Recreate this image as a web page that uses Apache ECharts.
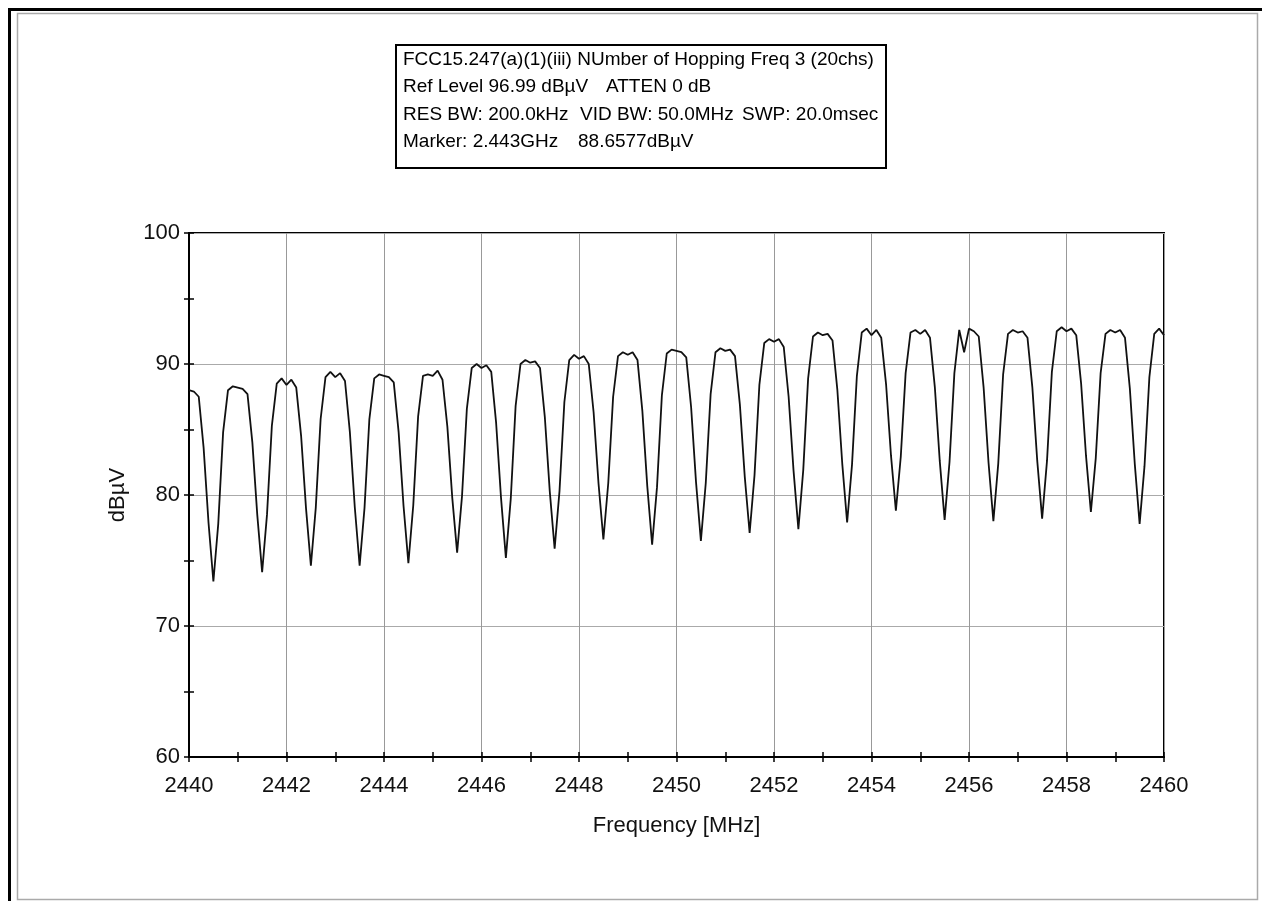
<!DOCTYPE html>
<html>
<head>
<meta charset="utf-8">
<title>Number of Hopping Freq</title>
<script src="https://cdn.jsdelivr.net/npm/echarts@6/dist/echarts.min.js"></script>
<style>
  html, body { margin: 0; padding: 0; background: #fff; }
  #main { width: 1262px; height: 901px; }
</style>
</head>
<body>
<div id="main"></div>
<script>
// sweep: 2440.0 .. 2460.0 MHz, one reading every 0.1 MHz
var sweepStart = 2440;
var sweepStep = 0.1;

// trace levels in dBuV, one row per MHz (x.0 .. x.9)
var traceLevels = [
  88.0, 87.9, 87.5, 83.6, 77.9, 73.4, 77.8, 84.8, 88.0, 88.3, // 2440
  88.2, 88.1, 87.7, 84.0, 78.5, 74.1, 78.5, 85.3, 88.5, 88.9, // 2441
  88.4, 88.8, 88.2, 84.5, 79.0, 74.6, 79.0, 85.8, 89.0, 89.4, // 2442
  89.0, 89.3, 88.7, 84.8, 79.1, 74.6, 79.0, 85.8, 88.9, 89.2, // 2443
  89.1, 89.0, 88.6, 84.8, 79.2, 74.8, 79.2, 86.0, 89.1, 89.2, // 2444
  89.1, 89.5, 88.8, 85.2, 79.8, 75.6, 79.9, 86.6, 89.7, 90.0, // 2445
  89.7, 89.9, 89.4, 85.5, 79.8, 75.2, 79.7, 86.8, 90.0, 90.3, // 2446
  90.1, 90.2, 89.7, 85.9, 80.3, 75.9, 80.3, 87.1, 90.3, 90.7, // 2447
  90.4, 90.6, 90.0, 86.3, 80.9, 76.6, 80.9, 87.5, 90.6, 90.9, // 2448
  90.7, 90.9, 90.3, 86.4, 80.7, 76.2, 80.6, 87.6, 90.8, 91.1, // 2449
  91.0, 90.9, 90.5, 86.7, 81.0, 76.5, 80.9, 87.7, 90.9, 91.2, // 2450
  91.0, 91.1, 90.6, 86.9, 81.4, 77.1, 81.5, 88.4, 91.6, 91.9, // 2451
  91.7, 91.9, 91.3, 87.5, 81.9, 77.4, 81.9, 88.9, 92.1, 92.4, // 2452
  92.2, 92.3, 91.8, 88.0, 82.4, 77.9, 82.3, 89.1, 92.4, 92.7, // 2453
  92.2, 92.6, 92.0, 88.4, 83.0, 78.8, 82.9, 89.3, 92.4, 92.6, // 2454
  92.3, 92.6, 92.0, 88.2, 82.6, 78.1, 82.5, 89.3, 92.6, 90.9, // 2455
  92.7, 92.5, 92.1, 88.2, 82.5, 78.0, 82.4, 89.2, 92.3, 92.6, // 2456
  92.4, 92.5, 92.0, 88.2, 82.6, 78.2, 82.6, 89.4, 92.5, 92.8, // 2457
  92.5, 92.7, 92.2, 88.5, 83.0, 78.7, 82.8, 89.3, 92.3, 92.6, // 2458
  92.4, 92.6, 92.0, 88.1, 82.4, 77.8, 82.2, 89.0, 92.3, 92.7, // 2459
  92.2                                                        // 2460
];

var freqRange = [2440, 2460];
var levelRange = [60, 100];

var headerLines = [
  ['FCC15.247(a)(1)(iii) NUmber of Hopping Freq 3 (20chs)'],
  ['Ref Level 96.99 dB\u00b5V', 'ATTEN 0 dB'],
  ['RES BW: 200.0kHz', 'VID BW: 50.0MHz', 'SWP: 20.0msec'],
  ['Marker: 2.443GHz', '88.6577dB\u00b5V']
];

var FONT = '"Liberation Sans", Arial, sans-serif';

var traceData = traceLevels.map(function (v, i) {
  return [+(sweepStart + i * sweepStep).toFixed(1), v];
});

// header box text, placed column by column
var colX = [[403], [403, 606], [403, 580, 742], [403, 578]];
var rowY = [60, 87.5, 115, 142.5];
var headerTexts = [];
headerLines.forEach(function (row, r) {
  row.forEach(function (t, c) {
    headerTexts.push({
      type: 'text',
      left: colX[r][c], top: rowY[r] - 10,
      style: { text: t, fill: '#000', font: '19px ' + FONT }
    });
  });
});

var myChart = echarts.init(document.getElementById('main'));

var option = {
  backgroundColor: '#fff',
  animation: false,
  grid: {
    left: 189, right: 98, top: 233, bottom: 144,
    show: true, borderColor: '#000', borderWidth: 2, backgroundColor: '#fff'
  },
  graphic: [
    { type: 'polyline', shape: { points: [[9.5, 901], [9.5, 9.5], [1262, 9.5]] },
      style: { stroke: '#000', lineWidth: 3, fill: null } },
    { type: 'rect', shape: { x: 17.5, y: 13.5, width: 1240, height: 886 },
      style: { stroke: '#aaa', lineWidth: 1.5, fill: null } },
    { type: 'rect', shape: { x: 396, y: 45, width: 490, height: 123 },
      style: { stroke: '#000', lineWidth: 2, fill: '#fff' } }
  ].concat(headerTexts),
  xAxis: [{
    type: 'value',
    min: freqRange[0], max: freqRange[1], interval: 2,
    name: 'Frequency [MHz]',
    nameLocation: 'middle',
    nameGap: 58,
    nameTextStyle: { color: '#111', fontSize: 22, fontFamily: FONT },
    axisLine: { onZero: false, lineStyle: { color: '#000', width: 2 } },
    axisTick: { show: true, length: 5, lineStyle: { color: '#000', width: 1.5 } },
    minorTick: { show: true, splitNumber: 2, length: 5, lineStyle: { color: '#000', width: 1.5 } },
    axisLabel: {
      color: '#111', fontSize: 22, fontFamily: FONT, margin: 18,
      formatter: function (v) { return String(v); }
    },
    splitLine: { show: true, lineStyle: { color: '#999', width: 1 } }
  }, {
    type: 'value',
    position: 'bottom',
    min: freqRange[0], max: freqRange[1], interval: 2,
    axisLine: { show: false, onZero: false },
    axisTick: { show: true, inside: true, length: 5, lineStyle: { color: '#000', width: 1.5 } },
    minorTick: { show: true, splitNumber: 2, length: 5, lineStyle: { color: '#000', width: 1.5 } },
    axisLabel: { show: false },
    splitLine: { show: false }
  }],
  yAxis: [{
    type: 'value',
    min: levelRange[0], max: levelRange[1], interval: 10,
    name: 'dB\u00b5V',
    nameLocation: 'middle',
    nameGap: 60,
    nameTextStyle: { color: '#111', fontSize: 22, fontFamily: FONT },
    axisLine: { onZero: false, lineStyle: { color: '#000', width: 2 } },
    axisTick: { show: true, length: 5, lineStyle: { color: '#000', width: 1.5 } },
    minorTick: { show: true, splitNumber: 2, length: 5, lineStyle: { color: '#000', width: 1.5 } },
    axisLabel: { color: '#111', fontSize: 22, fontFamily: FONT, margin: 9 },
    splitLine: { show: true, lineStyle: { color: '#aaa', width: 1.2 } }
  }, {
    type: 'value',
    position: 'left',
    min: levelRange[0], max: levelRange[1], interval: 10,
    axisLine: { show: false, onZero: false },
    axisTick: { show: true, inside: true, length: 5, lineStyle: { color: '#000', width: 1.5 } },
    minorTick: { show: true, splitNumber: 2, length: 5, lineStyle: { color: '#000', width: 1.5 } },
    axisLabel: { show: false },
    splitLine: { show: false }
  }],
  series: [{
    name: 'trace',
    type: 'line',
    xAxisIndex: 0,
    yAxisIndex: 0,
    data: traceData,
    showSymbol: false,
    lineStyle: { color: '#111', width: 1.8 },
    z: 5
  }]
};
myChart.setOption(option);
</script>
</body>
</html>
